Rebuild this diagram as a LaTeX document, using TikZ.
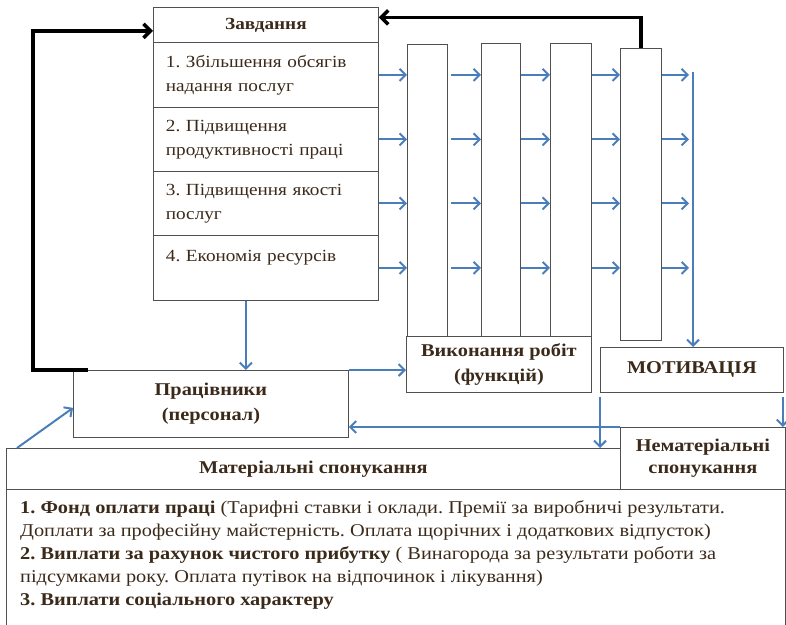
\documentclass[tikz,border=0pt]{standalone}
\usepackage{fontspec}
\setmainfont[FakeStretch=1.13]{Liberation Serif}
\usetikzlibrary{arrows.meta,arrows}
\usetikzlibrary{positioning}

\definecolor{txtbrown}{HTML}{3B2A1A}
\definecolor{arrblue}{HTML}{4A7EBB}
\definecolor{boxgray}{HTML}{505050}

\begin{document}
\frenchspacing
\begin{tikzpicture}[x=1pt,y=-1pt]

        \useasboundingbox (0,0) rectangle (786,624);
        \clip (0,0) rectangle (786,624);

        \begin{scope}[every node/.style={draw=boxgray,line width=0.8pt,text=txtbrown,inner sep=0pt,anchor=north west,align=center,font=\fontsize{17}{24}\selectfont}]
            \node[minimum width=225pt,minimum height=35pt,style={font=\fontsize{17}{24}\selectfont\bfseries}] (Z) at (153,7) {Завдання};
            \node[minimum width=225pt,minimum height=65pt,text width=200pt,align=left] (R1) at (153,42) {1. Збільшення обсягів\\надання послуг};
            \node[minimum width=225pt,minimum height=64pt,text width=200pt,align=left] (R2) at (153,107) {2. Підвищення\\продуктивності праці};
            \node[minimum width=225pt,minimum height=64pt,text width=200pt,align=left] (R3) at (153,171) {3. Підвищення якості\\послуг};
            \node[minimum width=225pt,minimum height=65pt,text width=200pt,align=left] (R4) at (153,235) {4. Економія ресурсів\\\mbox{}};
            \node[minimum width=40pt,minimum height=292pt] (B1) at (407,44) {};
            \node[minimum width=39pt,minimum height=293pt] (B2) at (481,43) {};
            \node[minimum width=41pt,minimum height=293pt] (B3) at (550,43) {};
            \node[minimum width=41pt,minimum height=292pt] (B4) at (620,48) {};
            \node[minimum width=185pt,minimum height=56pt,style={font=\fontsize{18}{25}\selectfont\bfseries}] (V) at (406,336) {Виконання робіт\\(функцій)};
            \node[minimum width=183pt,minimum height=45pt,style={font=\fontsize{18}{24}\selectfont\bfseries}] (M) at (600,347) {МОТИВАЦІЯ};
            \node[minimum width=275pt,minimum height=67pt,style={font=\fontsize{18}{25}\selectfont\bfseries}] (P) at (73,370) {Працівники\\(персонал)};
            \node[minimum width=614pt,minimum height=41pt,style={font=\fontsize{18}{24}\selectfont\bfseries}] (MS) at (6,448) {Матеріальні спонукання};
            \node[minimum width=165pt,minimum height=62pt,style={font=\fontsize{18}{22}\selectfont\bfseries}] (NS) at (620,427) {Нематеріальні\\спонукання};
        \end{scope}

        % open box under the two kinds of incentives
        \draw[boxgray,line width=0.8pt] (MS.south west) -- ++(0,160);
        \draw[boxgray,line width=0.8pt] (NS.south east) -- ++(0,160);
        \node[anchor=north west,align=left,text=txtbrown,inner sep=0pt,font=\fontsize{18}{23}\selectfont] (T) at (20,500) {\textbf{1. Фонд оплати праці} (Тарифні ставки і оклади. Премії за виробничі результати.\\Доплати за професійну майстерність. Оплата щорічних і додаткових відпусток)\\\textbf{2. Виплати за рахунок чистого прибутку} ( Винагорода за результати роботи за\\підсумками року. Оплата путівок на відпочинок і лікування)\\\textbf{3. Виплати соціального характеру}};

        \coordinate (L) at (693,72);

        \begin{scope}[>={Straight Barb[length=6pt,width=12pt]},line width=2pt,arrblue]
            \path [->] (R1.east) edge (B1.west |- R1.east);
            \path [->] (R2.east) edge (B1.west |- R2.east);
            \path [->] (R3.east) edge (B1.west |- R3.east);
            \path [->] (R4.east) edge (B1.west |- R4.east);
            \path [->] ([xshift=3pt]B1.east |- R1.east) edge (B2.west |- R1.east);
            \path [->] ([xshift=3pt]B1.east |- R2.east) edge (B2.west |- R2.east);
            \path [->] ([xshift=3pt]B1.east |- R3.east) edge (B2.west |- R3.east);
            \path [->] ([xshift=3pt]B1.east |- R4.east) edge (B2.west |- R4.east);
            \path [->] (B2.east |- R1.east) edge (B3.west |- R1.east);
            \path [->] (B2.east |- R2.east) edge (B3.west |- R2.east);
            \path [->] (B2.east |- R3.east) edge (B3.west |- R3.east);
            \path [->] (B2.east |- R4.east) edge (B3.west |- R4.east);
            \path [->] (B3.east |- R1.east) edge (B4.west |- R1.east);
            \path [->] (B3.east |- R2.east) edge (B4.west |- R2.east);
            \path [->] (B3.east |- R3.east) edge (B4.west |- R3.east);
            \path [->] (B3.east |- R4.east) edge (B4.west |- R4.east);
            \path [->] (B4.east |- R1.east) edge ([xshift=-4pt]L |- R1.east);
            \path [->] (B4.east |- R2.east) edge ([xshift=-4pt]L |- R2.east);
            \path [->] (B4.east |- R3.east) edge ([xshift=-4pt]L |- R3.east);
            \path [->] (B4.east |- R4.east) edge ([xshift=-4pt]L |- R4.east);
            \path [->] (L) edge (L |- M.north);
            \path [->] ([xshift=-20pt]R4.south) edge ([xshift=-20pt]R4.south |- P.north);
            \path [->] (P.north east) edge (V.west |- P.north east);
            \path [->] (NS.north west) edge (P.east |- NS.north west);
            \path [->] ([xshift=11pt]MS.north west) edge ([yshift=-4pt]P.west);
            \path [->] ([yshift=-4pt]M.south west) edge (M.south west |- MS.north);
            \path [->] ([xshift=-1pt,yshift=-4pt]M.south east) edge ([xshift=-1pt]M.south east |- NS.north);
        \end{scope}

        \begin{scope}[>={Straight Barb[length=7pt,width=14pt]},line width=3.5pt,black]
            \draw [->] ([xshift=15pt]P.north west) -- ++(-55,0) |- ([yshift=-6pt]Z.west);
            \draw [->] (B4.north) |- ([yshift=7.5pt]Z.east);
        \end{scope}

    \end{tikzpicture}
\end{document}
